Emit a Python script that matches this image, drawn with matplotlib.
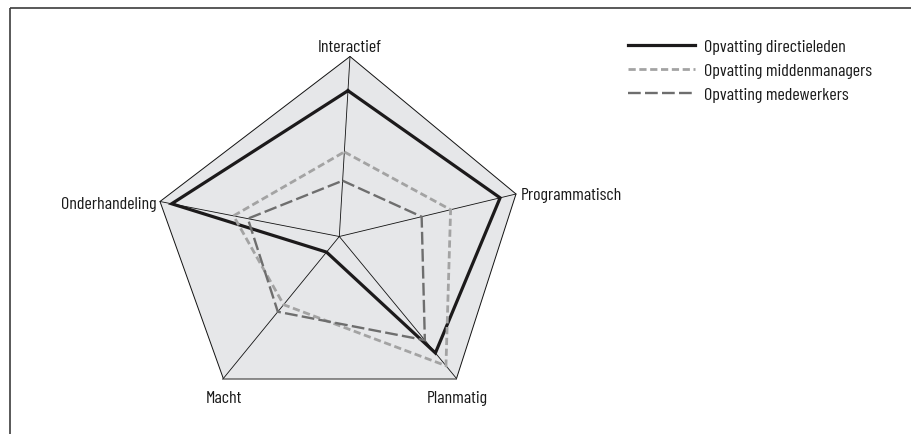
import matplotlib
matplotlib.use("Agg")
import matplotlib.pyplot as plt
import numpy as np

plt.rcParams['font.family'] = ['Barlow Condensed', 'Roboto Condensed', 'DejaVu Sans']

# ---- data (fraction of the full axis length, 0..1) ----
categories = ["Interactief", "Programmatisch", "Planmatig", "Macht", "Onderhandeling"]
series_names = ["Opvatting directieleden", "Opvatting middenmanagers", "Opvatting medewerkers"]
directieleden = [0.81, 0.91, 0.82, 0.11, 0.935]
middenmanagers = [0.47, 0.63, 0.91, 0.48, 0.59]
medewerkers = [0.31, 0.466, 0.73, 0.53, 0.51]

# ---- layout (skewed pentagon, in pixel-like axis units) ----
center = (339.3, 237.5)
axis_ends = [(350.0, 57.5), (516.0, 195.0), (456.5, 379.5), (223.3, 379.5), (160.0, 202.5)]
label_pos = [(350, 52, 'center'), (521, 200, 'left'), (457, 403, 'center'),
             (224, 403, 'center'), (157, 209, 'right')]

fig = plt.figure(figsize=(9.12, 4.35), dpi=100)
ax = fig.add_axes([0, 0, 1, 1])
ax.set_xlim(0, 912)
ax.set_ylim(435, 0)
ax.axis('off')

# pick a font size so that the legend label width matches the reference (~168 px)
renderer = fig.canvas.get_renderer()
probe = ax.text(0, 0, "Opvatting middenmanagers", fontsize=12)
w = probe.get_window_extent(renderer).width
probe.remove()
FS = 12 * 168.0 / w
FS_PX = FS * 100 / 72

# frame (top and left only)
ax.plot([10, 912], [8.5, 8.5], color='#3c3c3c', lw=1.2, solid_capstyle='butt')
ax.plot([10, 10], [8.5, 435], color='#3c3c3c', lw=1.2, solid_capstyle='butt')

cx, cy = center
ex = np.array([p[0] for p in axis_ends])
ey = np.array([p[1] for p in axis_ends])

# outer pentagon
ax.fill(ex, ey, facecolor='#e6e7e9', edgecolor='#111111', lw=0.7, zorder=1)
ax.plot([ex[3], ex[2]], [ey[3], ey[2]], color='#8c8c8c', lw=1.4, zorder=2)
# spokes
for x1, y1 in zip(ex, ey):
    ax.plot([cx, x1], [cy, y1], color='#111111', lw=0.6, zorder=2)

def pts(vals):
    v = np.array(vals + vals[:1])
    xe = np.append(ex, ex[0])
    ye = np.append(ey, ey[0])
    return cx + v * (xe - cx), cy + v * (ye - cy)

styles = [
    dict(color='#1c1a1b', lw=2.3, linestyle='-'),
    dict(color='#a3a3a3', lw=2.0, linestyle=(0, (2.6, 1.3))),
    dict(color='#6e6e6e', lw=1.7, linestyle=(0, (5.4, 1.8))),
]
handles = []
for vals, name, st in zip([directieleden, middenmanagers, medewerkers], series_names, styles):
    x, y = pts(vals)
    h, = ax.plot(x, y, label=name, zorder=3, solid_joinstyle='miter', dash_joinstyle='miter', **st)
    handles.append(h)

for cat, (lx, ly, ha) in zip(categories, label_pos):
    ax.text(lx, ly, cat, ha=ha, va='baseline', fontsize=FS, color='#1a1a1a')

H = 435.0

def make_legend(top_px, spacing):
    lg = ax.legend(handles=handles, loc='upper left', bbox_to_anchor=(628 / 912, 1 - top_px / H),
                   bbox_transform=fig.transFigure, frameon=False, fontsize=FS,
                   handlelength=67.0 / FS_PX, handletextpad=9.0 / FS_PX,
                   borderaxespad=0, borderpad=0, labelspacing=spacing)
    return lg

# two passes: tune row spacing (24 px) and first-row centre (46 px from top)
top, sp = 36.0, 0.4
for _ in range(2):
    leg = make_legend(top, sp)
    fig.canvas.draw()
    lines_y = [H - l.get_window_extent(renderer).y0 - l.get_window_extent(renderer).height / 2
               for l in leg.legend_handles]
    cur_sp = (lines_y[2] - lines_y[0]) / 2
    sp += (24.0 - cur_sp) / FS_PX
    top += 46.0 - lines_y[0]
    leg.remove()
leg = make_legend(top, sp)
for t in leg.get_texts():
    t.set_color('#1a1a1a')

fig.savefig('out.png', dpi=100)
